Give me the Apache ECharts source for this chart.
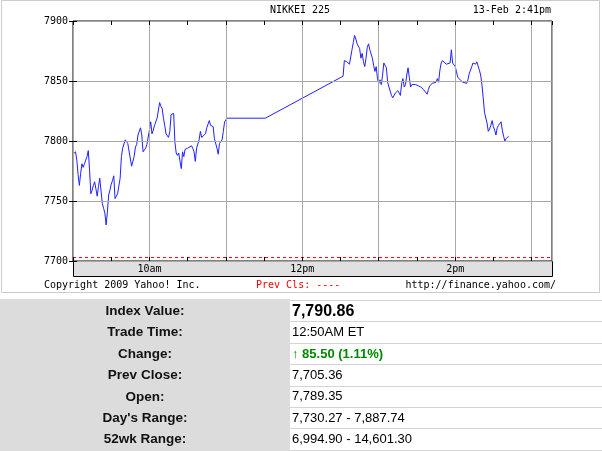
<!DOCTYPE html>
<html>
<head>
<meta charset="utf-8">
<script src="https://cdn.jsdelivr.net/npm/echarts@6/dist/echarts.min.js"></script>
<style>
html,body{margin:0;padding:0;background:#fff;}
#chart{width:602px;height:451px;}
</style>
</head>
<body>
<div id="chart"></div>
<script>
// minutes after 9:00 local market time
const times = [0,2,3,4,5,6,7,8,9,11,12,13,14,15,16,17,19,20,21,22,23,24,25,26,27,28,29,30,31,32,33,34,35,37,38,39,41,43,44,46,47,48,49,50,51,53,54,55,57,58,59,60,61,62,63,64,66,68,69,70,71,72,73,75,76,77,79,80,81,82,83,84,85,86,87,88,90,91,93,94,95,96,97,99,100,101,102,104,105,107,108,110,111,113,114,115,116,117,118,119,121,151,212,213,214,215,216,217,218,219,220,221,222,223,224,225,226,227,228,229,230,231,232,233,235,236,237,238,239,240,241,242,243,244,245,246,247,248,249,250,251,252,253,254,255,256,257,258,259,260,261,262,263,264,265,266,267,269,271,273,275,276,278,279,280,282,283,285,286,287,288,289,290,291,293,294,296,297,298,299,300,301,302,304,306,307,309,310,311,313,314,316,317,319,320,321,322,323,325,326,327,328,329,330,331,332,333,334,336,337,338,339,340,342];
const values = [7789,7791,7784,7772,7763,7773,7781,7778,7781,7787,7792,7776,7756,7759,7763,7766,7754,7762,7769,7769,7748,7744,7740,7730,7741,7755,7759,7764,7767,7771,7752,7751,7756,7769,7787,7794,7801,7798,7797,7779,7780,7787,7795,7797,7805,7811,7805,7791,7794,7797,7797,7809,7816,7806,7809,7813,7819,7832,7829,7827,7819,7813,7806,7803,7808,7822,7823,7799,7790,7788,7790,7783,7777,7791,7787,7793,7794,7794,7796,7794,7791,7783,7794,7801,7808,7803,7804,7806,7811,7817,7813,7812,7802,7794,7789,7798,7797,7801,7808,7816,7819,7819,7854,7867,7867,7866,7867,7864,7870,7876,7882,7888,7885,7881,7882,7877,7869,7873,7866,7862,7869,7878,7881,7876,7869,7863,7858,7862,7852,7848,7851,7847,7855,7865,7864,7861,7849,7845,7844,7838,7836,7837,7840,7841,7842,7840,7838,7848,7852,7845,7847,7855,7861,7853,7845,7847,7847,7847,7846,7845,7843,7842,7839,7843,7846,7848,7848,7849,7852,7849,7859,7865,7867,7867,7864,7864,7865,7876,7865,7865,7862,7858,7853,7851,7849,7849,7848,7851,7856,7862,7865,7864,7866,7859,7855,7847,7836,7824,7815,7808,7810,7813,7817,7812,7809,7805,7811,7813,7816,7809,7804,7800,7802,7804];
const prevCloseLine = 7703;
const yTicks = [7700, 7750, 7800, 7850, 7900];
const xLabelTimes = [60, 180, 300];
const xLabelTexts = ['10am', '12pm', '2pm'];
const chartTitle = 'NIKKEI 225';
const chartStamp = '13-Feb 2:41pm';
const footerLeft = 'Copyright 2009 Yahoo! Inc.';
const footerMid = 'Prev Cls: ----';
const footerRight = 'http://finance.yahoo.com/';
const tableLabels = ['Index Value:', 'Trade Time:', 'Change:', 'Prev Close:', 'Open:', "Day's Range:", '52wk Range:'];
const tableValues = ['7,790.86', '12:50AM ET', '\u2191 85.50 (1.11%)', '7,705.36', '7,789.35', '7,730.27 - 7,887.74', '6,994.90 - 14,601.30'];

const chart = echarts.init(document.getElementById('chart'));
const mono = '"DejaVu Sans Mono", monospace';
const sans = '"Liberation Sans", Arial, sans-serif';
const xMax = 376;

const data = times.map((t, i) => [t, values[i]]);

const graphics = [];
// outer frame of chart image
graphics.push({type:'rect', z:0, shape:{x:1.5, y:0.5, width:598, height:292}, style:{fill:'none', stroke:'#cccccc', lineWidth:1}, silent:true});
// label band under the plot
graphics.push({type:'rect', z:1, shape:{x:73.5, y:261.5, width:479, height:15}, style:{fill:'#e0e0e0', stroke:'#000', lineWidth:1}, silent:true});
// header texts
graphics.push({type:'text', z:5, x:300, y:10, style:{text:chartTitle, font:'10px ' + mono, fill:'#000', align:'center', verticalAlign:'middle'}});
graphics.push({type:'text', z:5, x:551, y:10, style:{text:chartStamp, font:'10px ' + mono, fill:'#000', align:'right', verticalAlign:'middle'}});
// footer texts
graphics.push({type:'text', z:5, x:44, y:285, style:{text:footerLeft, font:'10px ' + mono, fill:'#000', align:'left', verticalAlign:'middle'}});
graphics.push({type:'text', z:5, x:256, y:285, style:{text:footerMid, font:'10px ' + mono, fill:'#ff0000', align:'left', verticalAlign:'middle'}});
graphics.push({type:'text', z:5, x:556, y:285, style:{text:footerRight, font:'10px ' + mono, fill:'#000', align:'right', verticalAlign:'middle'}});

// table
const tTop = 300, rowH = 21.4, splitX = 290;
graphics.push({type:'rect', z:0, shape:{x:0, y:tTop - 1, width:splitX, height:451 - tTop + 1}, style:{fill:'#dcdcdc'}, silent:true});
for (let i = 0; i <= tableLabels.length; i++) {
  const yy = Math.round(tTop + i * rowH) + 0.5;
  graphics.push({type:'line', z:1, shape:{x1:splitX, y1:yy, x2:602, y2:yy}, style:{stroke:'#d4d4d4', lineWidth:1}, silent:true});
}
tableLabels.forEach((lab, i) => {
  const cy = tTop + i * rowH + rowH / 2 + 0.5;
  graphics.push({type:'text', z:5, x:145, y:cy, style:{text:lab, font:'bold 13.5px ' + sans, fill:'#111', align:'center', verticalAlign:'middle'}});
  let font = '13px ' + sans, fill = '#000';
  if (i === 0) font = 'bold 16px ' + sans;
  if (i === 2) { font = 'bold 13px ' + sans; fill = '#008800'; }
  graphics.push({type:'text', z:5, x:292, y:cy, style:{text:tableValues[i], font:font, fill:fill, align:'left', verticalAlign:'middle'}});
});

const option = {
  animation: false,
  backgroundColor: '#ffffff',
  grid: {left:73, top:21, width:479, height:240, show:true, borderColor:'#000', borderWidth:1, backgroundColor:'#fff', z:0},
  xAxis: [
    {
      type:'value', min:0, max:xMax, interval:30, position:'bottom', z:5,
      axisLine:{show:false},
      axisTick:{show:true, inside:true, length:4, lineStyle:{color:'#000'}},
      splitLine:{show:false},
      axisLabel:{
        show:true, margin:3, fontFamily:'DejaVu Sans Mono', fontSize:10, color:'#000',
        showMinLabel:true, showMaxLabel:false,
        formatter:function(v){ const k = xLabelTimes.indexOf(v); return k >= 0 ? xLabelTexts[k] : ''; }
      }
    },
    {
      type:'value', min:0, max:xMax, interval:60, position:'top', z:5,
      axisLine:{show:false},
      axisTick:{show:true, inside:true, length:4, lineStyle:{color:'#000'}},
      minorTick:{show:true, splitNumber:2, length:4, lineStyle:{color:'#000'}},
      splitLine:{show:true, lineStyle:{color:'#a8a8a8', width:1}},
      axisLabel:{show:false}
    }
  ],
  yAxis: [
    {
      type:'value', min:yTicks[0], max:yTicks[yTicks.length - 1], interval:50, position:'left', z:5,
      axisLine:{show:false},
      axisTick:{show:true, length:4, lineStyle:{color:'#000'}},
      splitLine:{show:true, lineStyle:{color:'#a8a8a8', width:1}},
      axisLabel:{margin:5, fontFamily:'DejaVu Sans Mono', fontSize:10, color:'#000', formatter:function(v){return String(v);}}
    },
    {
      type:'value', min:yTicks[0], max:yTicks[yTicks.length - 1], interval:50, position:'right', z:5,
      axisLine:{show:false},
      axisTick:{show:true, length:4, lineStyle:{color:'#000'}},
      splitLine:{show:false},
      axisLabel:{show:false}
    }
  ],
  graphic: graphics,
  series: [
    {
      type:'line', xAxisIndex:0, yAxisIndex:0, data:data, showSymbol:false, smooth:false, z:3,
      lineStyle:{color:'#2020ff', width:1},
      markLine:{
        silent:true, symbol:'none', label:{show:false},
        lineStyle:{color:'#ff0000', type:[3,3], width:1},
        data:[{yAxis:prevCloseLine}]
      }
    }
  ]
};
chart.setOption(option);
</script>
</body>
</html>
